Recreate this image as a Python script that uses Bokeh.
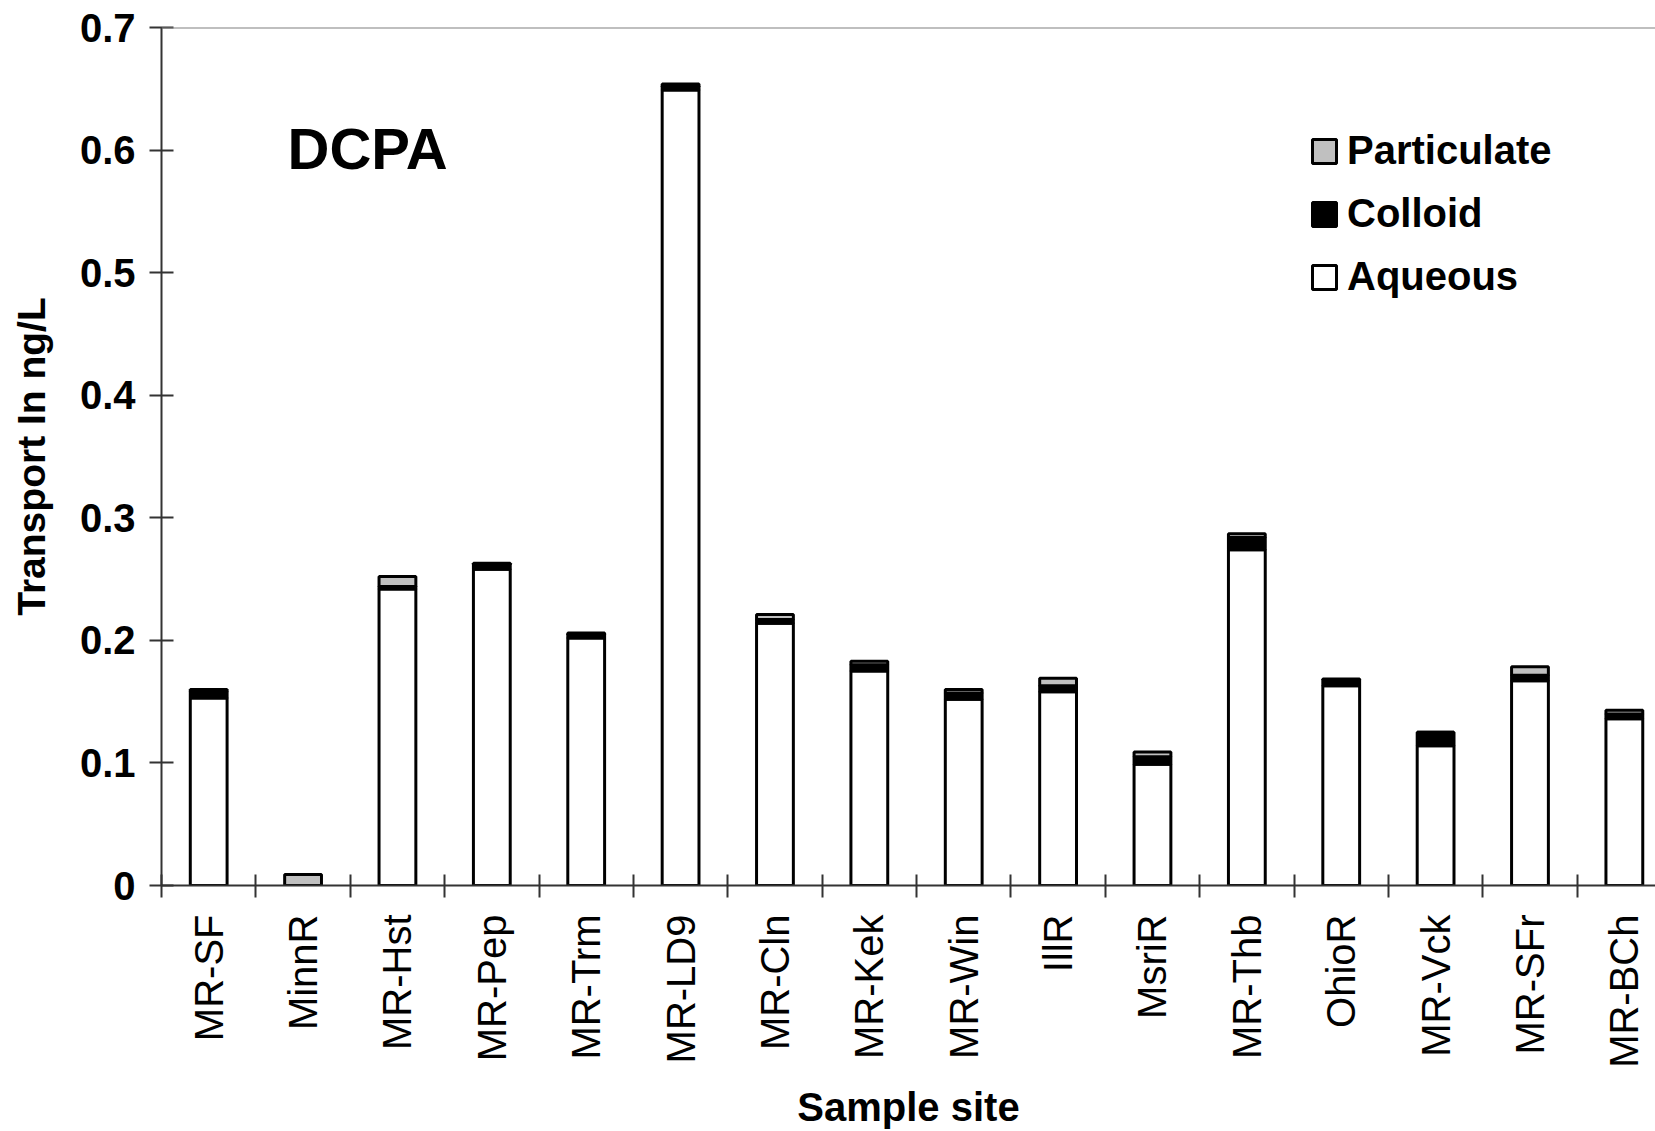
from math import pi
from bokeh.plotting import figure
from bokeh.models import (Range1d, FixedTicker, Legend, LegendItem, Label, Span,
                          ColumnDataSource)
from bokeh.embed import file_html
from bokeh.resources import INLINE

sites = ["MR-SF", "MinnR", "MR-Hst", "MR-Pep", "MR-Trm", "MR-LD9", "MR-Cln", "MR-Kek",
         "MR-Win", "IllR", "MsriR", "MR-Thb", "OhioR", "MR-Vck", "MR-SFr", "MR-BCh"]
aqueous = [0.153, 0.0, 0.242, 0.258, 0.202, 0.649, 0.214, 0.175,
           0.152, 0.158, 0.099, 0.274, 0.163, 0.114, 0.167, 0.136]
colloid = [0.005, 0.0, 0.002, 0.004, 0.003, 0.003, 0.003, 0.005,
           0.005, 0.005, 0.006, 0.010, 0.005, 0.011, 0.0045, 0.004]
particulate = [0.002, 0.009, 0.008, 0.001, 0.001, 0.002, 0.004, 0.003,
               0.003, 0.006, 0.004, 0.003, 0.0005, 0.0, 0.007, 0.003]
y_ticks = [0, 0.1, 0.2, 0.3, 0.4, 0.5, 0.6, 0.7]

FONT = "Liberation Sans"
n = len(sites)
xc = [i + 0.5 for i in range(n)]
b1 = aqueous
b2 = [a + c for a, c in zip(aqueous, colloid)]
b3 = [a + c + p for a, c, p in zip(aqueous, colloid, particulate)]

src = ColumnDataSource(dict(x=xc, z=[0.0] * n, b1=b1, b2=b2, b3=b3))

p = figure(width=1655, height=1131, x_range=Range1d(0, 15.83), y_range=Range1d(0, y_ticks[-1]),
           output_backend="svg", toolbar_location=None,
           min_border_left=161, min_border_right=0, min_border_top=27, min_border_bottom=246)
p.outline_line_color = None
p.xgrid.visible = False
p.ygrid.visible = False

W = 0.39
r_aq = p.vbar(x="x", bottom="z", top="b1", width=W, source=src,
              fill_color="white", line_color="black", line_width=3)
r_co = p.vbar(x="x", bottom="b1", top="b2", width=W, source=src,
              fill_color="black", line_color="black", line_width=3)
r_pa = p.vbar(x="x", bottom="b2", top="b3", width=W, source=src,
              fill_color="#C0C0C0", line_color="black", line_width=3)

# top frame line
p.add_layout(Span(location=y_ticks[-1], dimension="width", line_color="#808080", line_width=2))

# axes
xa = p.xaxis[0]
xa.ticker = FixedTicker(ticks=xc, minor_ticks=list(range(n + 1)))
xa.major_label_overrides = {x: s for x, s in zip(xc, sites)}
xa.major_label_orientation = pi / 2
xa.major_tick_line_color = None
xa.minor_tick_line_color = "#333333"
xa.minor_tick_line_width = 2
xa.minor_tick_in = 11
xa.minor_tick_out = 12
xa.axis_line_color = "#333333"
xa.axis_line_width = 2
xa.major_label_text_font = FONT
xa.major_label_text_font_size = "40px"
xa.major_label_text_color = "black"
xa.major_label_standoff = 17
xa.axis_label = "Sample site"
xa.axis_label_text_font = FONT
xa.axis_label_text_font_size = "40px"
xa.axis_label_text_font_style = "bold"
xa.axis_label_text_color = "black"
xa.axis_label_standoff = 14

ya = p.yaxis[0]
ya.ticker = FixedTicker(ticks=y_ticks)
ya.major_label_overrides = {0: "0"}
ya.minor_tick_line_color = None
ya.major_tick_line_color = "#333333"
ya.major_tick_line_width = 2
ya.major_tick_in = 12
ya.major_tick_out = 12
ya.axis_line_color = "#333333"
ya.axis_line_width = 2
ya.major_label_text_font = FONT
ya.major_label_text_font_size = "40px"
ya.major_label_text_font_style = "bold"
ya.major_label_text_color = "black"
ya.major_label_standoff = 14
ya.axis_label = "Transport In ng/L"
ya.axis_label_text_font = FONT
ya.axis_label_text_font_size = "39px"
ya.axis_label_text_font_style = "bold"
ya.axis_label_text_color = "black"
ya.axis_label_standoff = 24

p.add_layout(Label(x=1.335, y=0.601, text="DCPA", text_font=FONT, text_font_size="58px",
                   text_font_style="bold", text_baseline="middle", text_color="black"))

legend = Legend(items=[LegendItem(label="Particulate", renderers=[r_pa]),
                       LegendItem(label="Colloid", renderers=[r_co]),
                       LegendItem(label="Aqueous", renderers=[r_aq])],
                location=(1148, 586), orientation="vertical",
                label_text_font=FONT, label_text_font_size="40px", label_text_font_style="bold",
                label_text_color="black", glyph_width=30, glyph_height=30,
                spacing=18, padding=0, margin=0, label_standoff=8,
                border_line_color=None, background_fill_alpha=0)
p.add_layout(legend)

open("out.html", "w").write(file_html(p, INLINE))
